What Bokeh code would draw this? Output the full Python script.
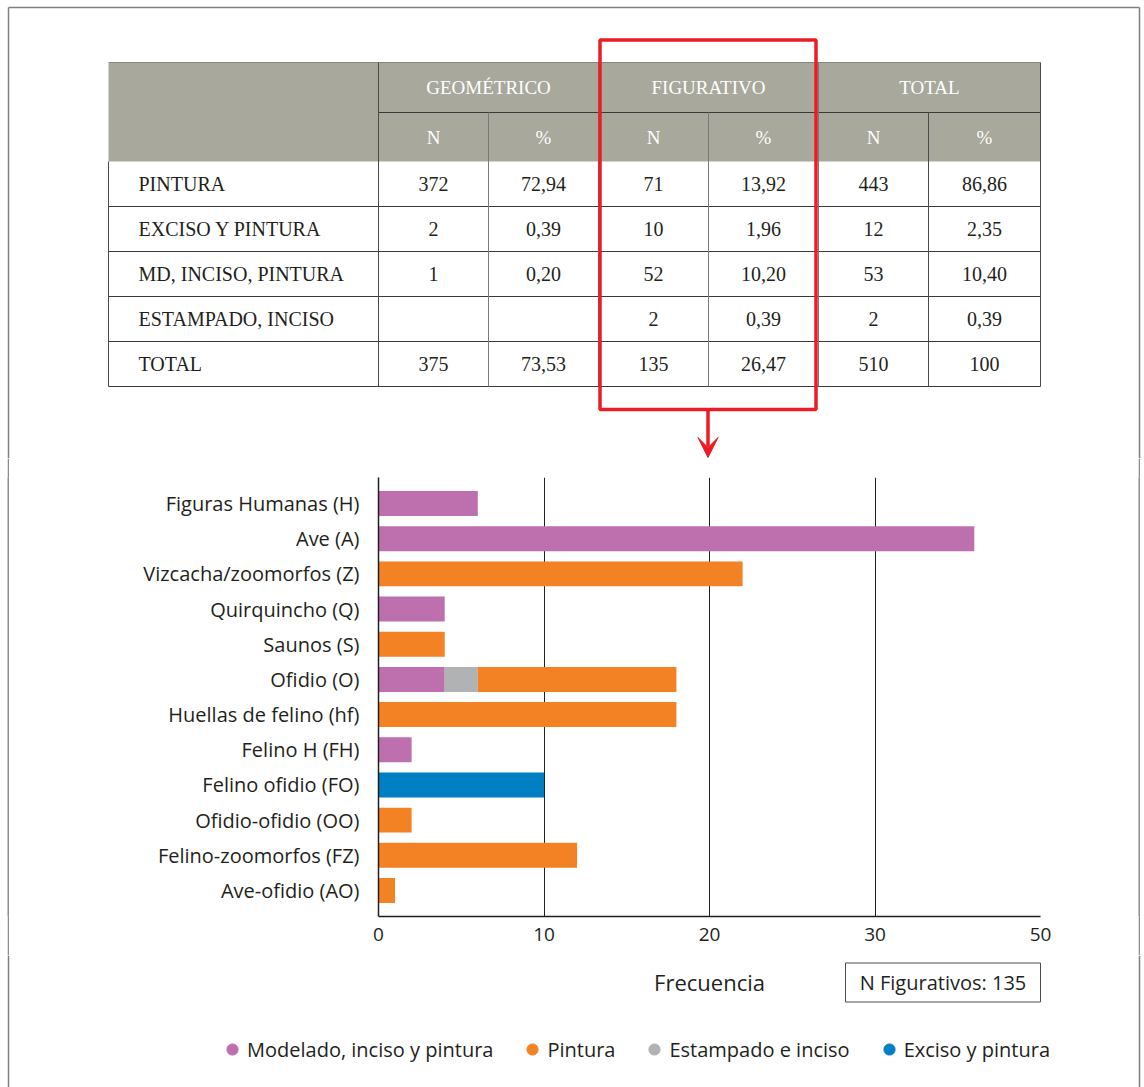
from bokeh.plotting import figure
from bokeh.layouts import column, row
from bokeh.models import (ColumnDataSource, Range1d, FactorRange, FixedTicker,
                          Legend, LegendItem, Arrow, VeeHead, Spacer)
from bokeh.core.properties import value
from bokeh.embed import file_html
from bokeh.resources import INLINE

# ---------------- table data ----------------
group_labels = ["GEOMÉTRICO", "FIGURATIVO", "TOTAL"]
sub_labels = ["N", "%"]
row_labels = ["PINTURA", "EXCISO Y PINTURA", "MD, INCISO, PINTURA",
              "ESTAMPADO, INCISO", "TOTAL"]
geo_n = ["372", "2", "1", "", "375"]
geo_pct = ["72,94", "0,39", "0,20", "", "73,53"]
fig_n = ["71", "10", "52", "2", "135"]
fig_pct = ["13,92", "1,96", "10,20", "0,39", "26,47"]
tot_n = ["443", "12", "53", "2", "510"]
tot_pct = ["86,86", "2,35", "10,40", "0,39", "100"]

# ---------------- bar chart data ----------------
categories = ["Figuras Humanas (H)", "Ave (A)", "Vizcacha/zoomorfos (Z)",
              "Quirquincho (Q)", "Saunos (S)", "Ofidio (O)",
              "Huellas de felino (hf)", "Felino H (FH)", "Felino ofidio (FO)",
              "Ofidio-ofidio (OO)", "Felino-zoomorfos (FZ)", "Ave-ofidio (AO)"]
modelado = [6, 36, 0, 4, 0, 4, 0, 2, 0, 0, 0, 0]
estampado = [0, 0, 0, 0, 0, 2, 0, 0, 0, 0, 0, 0]
pintura = [0, 0, 22, 0, 4, 12, 18, 0, 0, 2, 12, 1]
exciso = [0, 0, 0, 0, 0, 0, 0, 0, 10, 0, 0, 0]

series_keys = ["modelado", "estampado", "pintura", "exciso"]
series_names = {"modelado": "Modelado, inciso y pintura", "pintura": "Pintura",
                "estampado": "Estampado e inciso", "exciso": "Exciso y pintura"}
series_colors = {"modelado": "#bd70ad", "pintura": "#f28224",
                 "estampado": "#b1b2b4", "exciso": "#007fc5"}
legend_order = ["modelado", "pintura", "estampado", "exciso"]

x_ticks = [0, 10, 20, 30, 40]
x_tick_labels = ["0", "10", "20", "30", "50"]
x_title = "Frecuencia"
note_text = "N Figurativos: 135"

# ---------------- styling constants ----------------
W = 1144
PAGE_H = 1087
TOP_H = 458
BAR_H = 497
FOOT_H = PAGE_H - TOP_H - BAR_H
TXT = "#231f20"
FRAME = "#808080"
RED = "#ec1c24"
SERIF = value("Liberation Serif")
SANS = value("Open Sans")

BAR_LEFT, BAR_RIGHT = 378, 1040   # plot frame edges on the page
LINE_L, LINE_R = 7, 1138          # left edges of the 2px page-frame strips


def blank(width, height, y0):
    """Figure whose data coordinates are page pixels (y downwards)."""
    f = figure(width=width, height=height, x_range=Range1d(0, width),
               y_range=Range1d(y0 + height, y0), output_backend="svg",
               toolbar_location=None, min_border=0, x_axis_location=None,
               y_axis_location=None, outline_line_color=None)
    f.grid.visible = False
    return f


# ================= top: table =================
top = blank(W, TOP_H, 0)

col_x = [108, 378, 488, 598, 708, 818, 928, 1040]
hdr_y = [62, 112, 161]
row_y = [161, 206, 251, 296, 341, 386]

top.segment(x0=[LINE_L + 1, LINE_L + 1, LINE_R + 1], y0=[7, 7, 7],
            x1=[LINE_R + 1, LINE_L + 1, LINE_R + 1], y1=[7, TOP_H, TOP_H],
            line_color=FRAME, line_width=1.5)

top.quad(left=[col_x[0]], right=[col_x[-1]], top=[hdr_y[0]], bottom=[hdr_y[2]],
         fill_color="#a8a89c", line_color=None)
top.segment(x0=[col_x[0]], y0=[hdr_y[0]], x1=[col_x[-1]], y1=[hdr_y[0]],
            line_color="#85857a", line_width=1)

hx0, hy0, hx1, hy1 = [], [], [], []
for yy in row_y[1:]:
    hx0.append(col_x[0]); hx1.append(col_x[-1]); hy0.append(yy); hy1.append(yy)
hx0.append(col_x[1]); hx1.append(col_x[-1]); hy0.append(hdr_y[1]); hy1.append(hdr_y[1])
top.segment(x0=hx0, y0=hy0, x1=hx1, y1=hy1, line_color="#3a3a3a", line_width=1)

vx0, vy0, vx1, vy1, vcol = [], [], [], [], []
for i, xx in enumerate(col_x):
    if i == 0:
        ys = hdr_y[2]
    elif i in (2, 4, 6):
        ys = hdr_y[1]
    else:
        ys = hdr_y[0]
    vx0.append(xx); vx1.append(xx); vy0.append(ys); vy1.append(row_y[-1])
    vcol.append("#4a4a4a" if i in (0, 1, 6, 7) else "#7a7a7a")
top.segment(x0=vx0, y0=vy0, x1=vx1, y1=vy1, line_color=vcol, line_width=1)

gx = [(col_x[1 + 2 * g] + col_x[3 + 2 * g]) / 2 for g in range(3)]
top.text(x=gx, y=[(hdr_y[0] + hdr_y[1]) / 2] * 3, text=group_labels,
         text_align="center", text_baseline="middle", text_color="white",
         text_font=SERIF, text_font_size="19px")
sx = [(col_x[i] + col_x[i + 1]) / 2 for i in range(1, 7)]
top.text(x=sx, y=[(hdr_y[1] + hdr_y[2]) / 2] * 6, text=sub_labels * 3,
         text_align="center", text_baseline="middle", text_color="white",
         text_font=SERIF, text_font_size="19px")

ry = [(row_y[i] + row_y[i + 1]) / 2 for i in range(5)]
top.text(x=[col_x[0] + 30] * 5, y=ry, text=row_labels, text_align="left",
         text_baseline="middle", text_color=TXT, text_font=SERIF,
         text_font_size="20px")
cols = [geo_n, geo_pct, fig_n, fig_pct, tot_n, tot_pct]
bx, by, bt = [], [], []
for c, vals in enumerate(cols):
    for r, v in enumerate(vals):
        bx.append(sx[c]); by.append(ry[r]); bt.append(v)
top.text(x=bx, y=by, text=bt, text_align="center", text_baseline="middle",
         text_color=TXT, text_font=SERIF, text_font_size="20px")

top.quad(left=[599.5], right=[815.5], top=[39.5], bottom=[409], fill_alpha=0,
         line_color=RED, line_width=3.5)
top.add_layout(Arrow(x_start=707.5, y_start=409, x_end=707.5, y_end=457,
                     line_color=RED, line_width=3.5,
                     end=VeeHead(size=20, fill_color=RED, line_color=RED)))

# ================= middle: bar chart =================
def frame_strip():
    s = figure(width=2, height=BAR_H, output_backend="svg", toolbar_location=None,
               min_border=0, x_axis_location=None, y_axis_location=None,
               outline_line_color=None, border_fill_color="#8c8c8c",
               background_fill_color="#8c8c8c")
    s.grid.visible = False
    return s


bar_w = LINE_R - (LINE_L + 2)
bar = figure(width=bar_w, height=BAR_H,
             y_range=FactorRange(factors=categories[::-1], range_padding=0.04),
             x_range=Range1d(0, 40), output_backend="svg", toolbar_location=None,
             min_border_left=BAR_LEFT - (LINE_L + 2),
             min_border_right=LINE_R - BAR_RIGHT,
             min_border_top=19, min_border_bottom=BAR_H - 19 - 439,
             outline_line_color=None)

src = ColumnDataSource(dict(cat=categories, modelado=modelado,
                            estampado=estampado, pintura=pintura, exciso=exciso))
bar.hbar_stack(series_keys, y="cat", height=0.71, source=src,
               fill_color=[series_colors[k] for k in series_keys], line_color=None)

ticker = FixedTicker(ticks=x_ticks)
bar.xaxis.ticker = ticker
bar.xaxis.major_label_overrides = dict(zip(x_ticks, x_tick_labels))
bar.xaxis.major_tick_in = 0
bar.xaxis.major_tick_out = 0
bar.xaxis.minor_tick_in = 0
bar.xaxis.minor_tick_out = 0
bar.xaxis.major_label_standoff = 11
bar.xaxis.major_label_text_font = "Open Sans"
bar.xaxis.major_label_text_font_size = "19px"
bar.xaxis.major_label_text_color = TXT
bar.xaxis.axis_line_color = TXT
bar.xaxis.axis_line_width = 1.5

bar.yaxis.major_tick_in = 0
bar.yaxis.major_tick_out = 0
bar.yaxis.major_label_standoff = 19
bar.yaxis.major_label_text_font = "Open Sans"
bar.yaxis.major_label_text_font_size = "20px"
bar.yaxis.major_label_text_color = TXT
bar.yaxis.axis_line_color = TXT
bar.yaxis.axis_line_width = 1.5

bar.xgrid.ticker = ticker
bar.xgrid.grid_line_color = TXT
bar.xgrid.grid_line_width = 1
bar.ygrid.visible = False

# ================= bottom: axis title, note box, legend =================
y0 = TOP_H + BAR_H
foot = blank(W, FOOT_H, y0)
foot.segment(x0=[LINE_L + 1, LINE_R + 1], y0=[y0, y0], x1=[LINE_L + 1, LINE_R + 1],
             y1=[PAGE_H, PAGE_H], line_color=FRAME, line_width=1.5)

foot.text(x=[(BAR_LEFT + BAR_RIGHT) / 2], y=[981], text=[x_title],
          text_align="center", text_baseline="middle", text_font=SANS,
          text_font_size="22px", text_color=TXT)

foot.quad(left=[845], right=[BAR_RIGHT], top=[962.5], bottom=[1001.5],
          fill_alpha=0, line_color="#4d4d4d", line_width=1)
foot.text(x=[(845 + BAR_RIGHT) / 2], y=[982], text=[note_text],
          text_align="center", text_baseline="middle", text_font=SANS,
          text_font_size="20px", text_color=TXT)

# legend: marker renderers carry no visible point (NaN), only their style
items = []
for k in legend_order:
    r = foot.scatter(x=[float("nan")], y=[float("nan")], marker="circle",
                     fill_color=series_colors[k], line_color=series_colors[k])
    items.append(LegendItem(label=series_names[k], renderers=[r]))
legend = Legend(items=items, orientation="horizontal",
                location=(218, PAGE_H - 1063),
                glyph_width=28, glyph_height=28, label_height=28,
                label_standoff=1, spacing=25, padding=0, margin=0,
                label_text_font="Open Sans", label_text_font_size="20px",
                label_text_color=TXT, border_line_color=None,
                background_fill_alpha=0)
foot.add_layout(legend, "center")

page = column(top,
              row(Spacer(width=LINE_L, height=BAR_H), frame_strip(), bar,
                  frame_strip(), Spacer(width=W - LINE_R - 2, height=BAR_H)),
              foot)

open("out.html", "w").write(file_html(page, INLINE))
